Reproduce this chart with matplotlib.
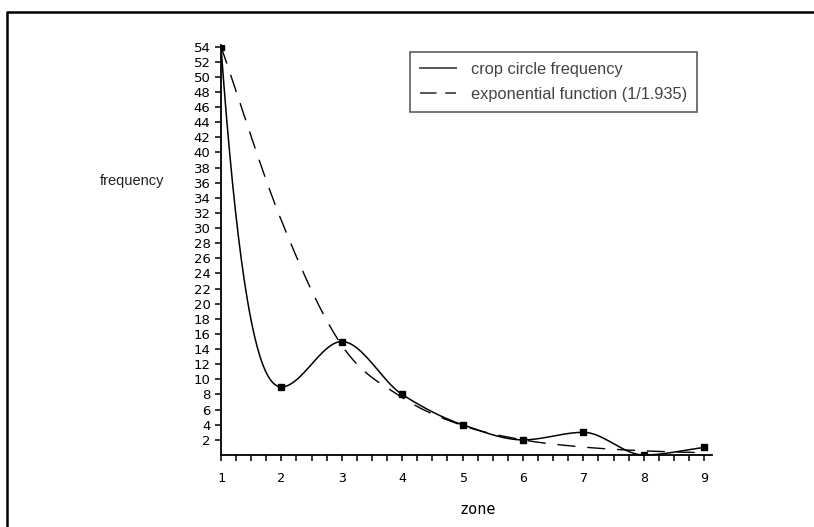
import numpy as np
import matplotlib
matplotlib.use("Agg")
import matplotlib.pyplot as plt
from matplotlib.lines import Line2D
from matplotlib.ticker import MultipleLocator

zones = [1, 2, 3, 4, 5, 6, 7, 8, 9]
crop_freq = [54, 9, 15, 8, 4, 2, 3, 0, 1]
exp_func = [54, 31, 14.5, 7.6, 3.9, 2.0, 1.05, 0.55, 0.3]
y_ticks = list(range(2, 55, 2))
x_ticks = [1, 2, 3, 4, 5, 6, 7, 8, 9]


def hermite(x, y, m, n=500):
    x = np.asarray(x, float)
    y = np.asarray(y, float)
    h = np.diff(x)
    xs = np.linspace(x[0], x[-1], n)
    idx = np.clip(np.searchsorted(x, xs) - 1, 0, len(x) - 2)
    t = (xs - x[idx]) / h[idx]
    h00 = 2 * t**3 - 3 * t**2 + 1
    h10 = t**3 - 2 * t**2 + t
    h01 = -2 * t**3 + 3 * t**2
    h11 = t**3 - t**2
    ys = h00 * y[idx] + h10 * h[idx] * m[idx] + h01 * y[idx + 1] + h11 * h[idx] * m[idx + 1]
    return xs, ys


def pchip_curve(x, y, start_slope):
    d = np.diff(y) / np.diff(x)
    m = np.zeros(len(x))
    for i in range(1, len(x) - 1):
        if d[i - 1] * d[i] > 0:
            m[i] = 2 / (1 / d[i - 1] + 1 / d[i])
    m[0] = start_slope
    m[-1] = d[-1]
    return hermite(x, y, m)


def catmull_rom(x, y):
    y = np.asarray(y, float)
    m = np.gradient(y, np.asarray(x, float))
    return hermite(x, y, m)


fig = plt.figure(figsize=(8.14, 5.27), dpi=100)
ax = fig.add_axes([221 / 814, 1 - 455 / 527, (712 - 221) / 814, (455 - 45) / 527])

xs, ys = pchip_curve(zones, crop_freq, start_slope=-110)
ax.plot(xs, ys, color="black", lw=1.1, label="crop circle frequency")
ax.plot(zones, crop_freq, ls="none", marker="s", ms=5, color="black")

xe, ye = catmull_rom(zones, exp_func)
ax.plot(xe, ye, color="black", lw=1.0, dashes=(13, 8.5),
        label="exponential function (1/1.935)")

ax.set_xlim(1, 9.13)
ax.set_ylim(0, 54.2)
ax.set_xticks(x_ticks)
ax.xaxis.set_minor_locator(MultipleLocator(0.25))
ax.set_yticks(y_ticks)
ax.set_yticklabels([str(v) for v in y_ticks], family="DejaVu Sans", fontsize=9.5)
ax.set_xticklabels([str(v) for v in x_ticks], family="DejaVu Sans Mono", fontsize=9.5)

for s in ["top", "right"]:
    ax.spines[s].set_visible(False)
for s in ["left", "bottom"]:
    ax.spines[s].set_linewidth(1.3)
ax.tick_params(axis="y", direction="out", length=4.5, width=1.1, pad=3)
ax.tick_params(axis="x", which="both", direction="out", length=4.5, width=1.1, pad=8)

fig.text(132 / 814, 1 - 181 / 527, "frequency", ha="center", va="center",
         family="Liberation Sans", fontsize=10.5, color="#222222")
fig.text(478 / 814, 1 - 510 / 527, "zone", ha="center", va="center",
         family="DejaVu Sans Mono", fontsize=11)

leg = ax.legend(loc="upper left", bbox_to_anchor=(410 / 814, 1 - 52 / 527),
                bbox_transform=fig.transFigure, borderaxespad=0, fancybox=False,
                frameon=True, handlelength=2.2, handletextpad=0.9,
                borderpad=0.6, labelspacing=0.6,
                prop={"family": "Liberation Sans", "size": 11.8})
leg.get_frame().set_edgecolor("#333333")
leg.get_frame().set_linewidth(1.2)
for t in leg.get_texts():
    t.set_color("#444444")
for l in leg.get_lines():
    l.set_color("#555555")
    l.set_linewidth(1.4)
leg.get_lines()[1].set_dashes((8.5, 4.5))

# outer frame (only top and left edges are visible in the crop)
fig.add_artist(Line2D([7 / 814, 7 / 814, 1], [0, 1 - 12 / 527, 1 - 12 / 527],
                      transform=fig.transFigure, color="black", lw=1.8))

fig.savefig("out.png", dpi=100)
